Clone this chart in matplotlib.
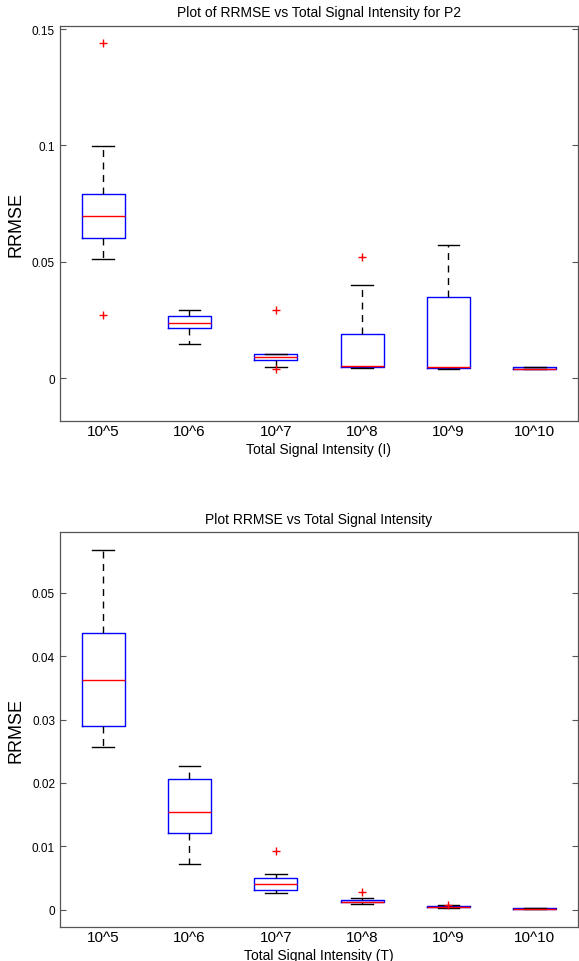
import matplotlib
matplotlib.use("Agg")
import matplotlib.pyplot as plt

plt.rcParams['font.family'] = ['Liberation Sans', 'DejaVu Sans']

categories = ["10^5", "10^6", "10^7", "10^8", "10^9", "10^10"]

# Top panel (P2, I)
top_whislo = [0.0511, 0.0149, 0.0050, 0.0044, 0.0040, 0.0038]
top_q1     = [0.0604, 0.0215, 0.0080, 0.0046, 0.0044, 0.0039]
top_med    = [0.0696, 0.0239, 0.0089, 0.0053, 0.0046, 0.0040]
top_q3     = [0.0793, 0.0268, 0.0104, 0.0192, 0.0347, 0.0049]
top_whishi = [0.0997, 0.0294, 0.0104, 0.0401, 0.0574, 0.0050]
top_fliers = [[0.144, 0.0271], [], [0.0291, 0.0040], [0.0520], [], []]

# Bottom panel (T)
bot_whislo = [0.0257, 0.0073, 0.0027, 0.0009, 0.0003, 0.0001]
bot_q1     = [0.0290, 0.0121, 0.0031, 0.0012, 0.0004, 0.00015]
bot_med    = [0.0363, 0.0155, 0.0041, 0.0013, 0.0005, 0.0002]
bot_q3     = [0.0437, 0.0207, 0.0051, 0.0016, 0.0006, 0.00025]
bot_whishi = [0.0567, 0.0226, 0.0056, 0.0018, 0.0007, 0.0003]
bot_fliers = [[], [], [0.0093], [0.0029], [0.00074], []]


def make_stats(lo, q1, med, q3, hi, fl):
    return [dict(whislo=a, q1=b, med=c, q3=d, whishi=e, fliers=f, label=lab)
            for a, b, c, d, e, f, lab in zip(lo, q1, med, q3, hi, fl, categories)]


def draw(ax, stats, title, xlabel, ylim, yticks, yticklabels):
    ax.bxp(stats, positions=range(1, len(stats) + 1), widths=0.5,
           showfliers=True,
           boxprops=dict(color='#0000ff', linewidth=1.0),
           medianprops=dict(color='#ff0000', linewidth=1.0),
           whiskerprops=dict(color='black', linestyle=(0, (5, 4)), linewidth=1.0),
           capprops=dict(color='black', linewidth=1.0),
           capwidths=0.25,
           flierprops=dict(marker='+', markeredgecolor='#ff0000', markersize=6,
                           linestyle='none', markeredgewidth=1.0))
    ax.set_xlim(0.5, 6.5)
    ax.set_ylim(*ylim)
    ax.set_yticks(yticks)
    ax.set_yticklabels(yticklabels)
    ax.set_title(title, fontsize=10, pad=7)
    ax.set_xlabel(xlabel, fontsize=10, labelpad=3)
    ax.set_ylabel("RRMSE", fontsize=13)
    ax.yaxis.set_label_coords(-0.068, 0.5)
    ax.tick_params(axis='y', direction='in', right=True, labelsize=8.5,
                   length=4, color='#555555', pad=3.5)
    ax.tick_params(axis='x', length=0, labelsize=11, pad=2)
    for s in ax.spines.values():
        s.set_color('#555555')
        s.set_linewidth(0.9)


fig = plt.figure(figsize=(5.79, 9.62), dpi=100)
ax1 = fig.add_axes([0.1036, 0.5613, 0.8946, 0.4106])
ax2 = fig.add_axes([0.1036, 0.0353, 0.8946, 0.4103])

draw(ax1, make_stats(top_whislo, top_q1, top_med, top_q3, top_whishi, top_fliers),
     "Plot of RRMSE vs Total Signal Intensity for P2", "Total Signal Intensity (I)",
     (-0.0184, 0.1513), [0, 0.05, 0.1, 0.15], ["0", "0.05", "0.1", "0.15"])
draw(ax2, make_stats(bot_whislo, bot_q1, bot_med, bot_q3, bot_whishi, bot_fliers),
     "Plot RRMSE vs Total Signal Intensity", "Total Signal Intensity (T)",
     (-0.0027, 0.0595), [0, 0.01, 0.02, 0.03, 0.04, 0.05],
     ["0", "0.01", "0.02", "0.03", "0.04", "0.05"])

fig.savefig("out.png", dpi=100)
